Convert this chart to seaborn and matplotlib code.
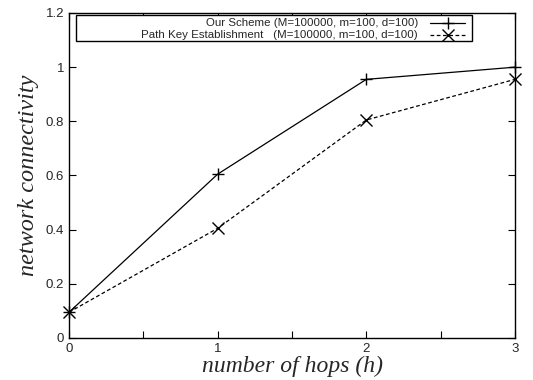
import matplotlib
matplotlib.use("Agg")
import matplotlib.pyplot as plt
import seaborn as sns
import pandas as pd
from matplotlib.lines import Line2D
from matplotlib.patches import Rectangle

hops = [0, 1, 2, 3]
our_scheme = [0.095, 0.605, 0.955, 1.0]
path_key = [0.095, 0.405, 0.805, 0.955]
labels = ["Our Scheme (M=100000, m=100, d=100)",
          "Path Key Establishment   (M=100000, m=100, d=100)"]
x_ticks = [0, 1, 2, 3]
y_ticks = [0, 0.2, 0.4, 0.6, 0.8, 1, 1.2]
y_tick_labels = ["0", "0.2", "0.4", "0.6", "0.8", "1", "1.2"]

sns.set_style("ticks")
plt.rcParams['font.family'] = ['Liberation Sans', 'DejaVu Sans']

df = pd.DataFrame({
    "h": hops + hops,
    "conn": our_scheme + path_key,
    "series": [labels[0]] * len(hops) + [labels[1]] * len(hops),
})

fig = plt.figure(figsize=(5.33, 3.80), dpi=100)
ax = fig.add_axes([69/533, 1 - 338/380, (515-69)/533, (338-13)/380])

sns.lineplot(data=df, x="h", y="conn", hue="series", style="series",
             palette=["black", "black"], dashes=[(None, None), (3, 2)],
             markers=["+", "x"], markersize=9, markeredgewidth=1.0,
             markeredgecolor="black",
             linewidth=0.9, ax=ax, legend=False, clip_on=False)

ax.set_xlim(0, 3)
ax.set_ylim(0, 1.2)
ax.set_xticks(x_ticks)
ax.set_xticks([0.5, 1.5, 2.5], minor=True)
ax.set_yticks(y_ticks)
ax.set_yticklabels(y_tick_labels)
ax.tick_params(which="both", direction="in", top=True, right=True,
               labelsize=9.5, color="black", width=0.8)
ax.tick_params(which="major", length=5)
ax.tick_params(which="minor", length=5)
for s in ax.spines.values():
    s.set_linewidth(1.0)
    s.set_color("black")

ax.set_xlabel("number of hops (h)", family=["Liberation Serif"], style="italic",
              fontsize=17, labelpad=1)
ax.set_ylabel("network connectivity", family=["Liberation Serif"], style="italic",
              fontsize=17.5, labelpad=5)

# legend box (gnuplot style)
bx0, bx1 = (76-69)/446, (472-69)/446
by0, by1 = (338-41)/325, (338-15)/325
ax.add_patch(Rectangle((bx0, by0), bx1 - bx0, by1 - by0, transform=ax.transAxes,
                       facecolor="white", edgecolor="black", linewidth=1.0, zorder=5))
rows_y = [(338-23)/325, (338-35)/325]
text_x = (418-69)/446
lx0, lx1 = (430-69)/446, (465-69)/446
mx = (lx0 + lx1) / 2
styles = [dict(ls="-", marker="+"), dict(ls=(0, (3, 2)), marker="x")]
for lab, yy, st in zip(labels, rows_y, styles):
    ax.text(text_x, yy, lab, transform=ax.transAxes, ha="right", va="center",
            fontsize=8.25, zorder=6)
    ax.add_line(Line2D([lx0, lx1], [yy, yy], transform=ax.transAxes, color="black",
                       linestyle=st["ls"], linewidth=0.9, zorder=6))
    ax.add_line(Line2D([mx], [yy], transform=ax.transAxes, color="black",
                       marker=st["marker"], markersize=9, markeredgewidth=1.0,
                       linestyle="none", zorder=6))

fig.savefig("out.png", dpi=100)
